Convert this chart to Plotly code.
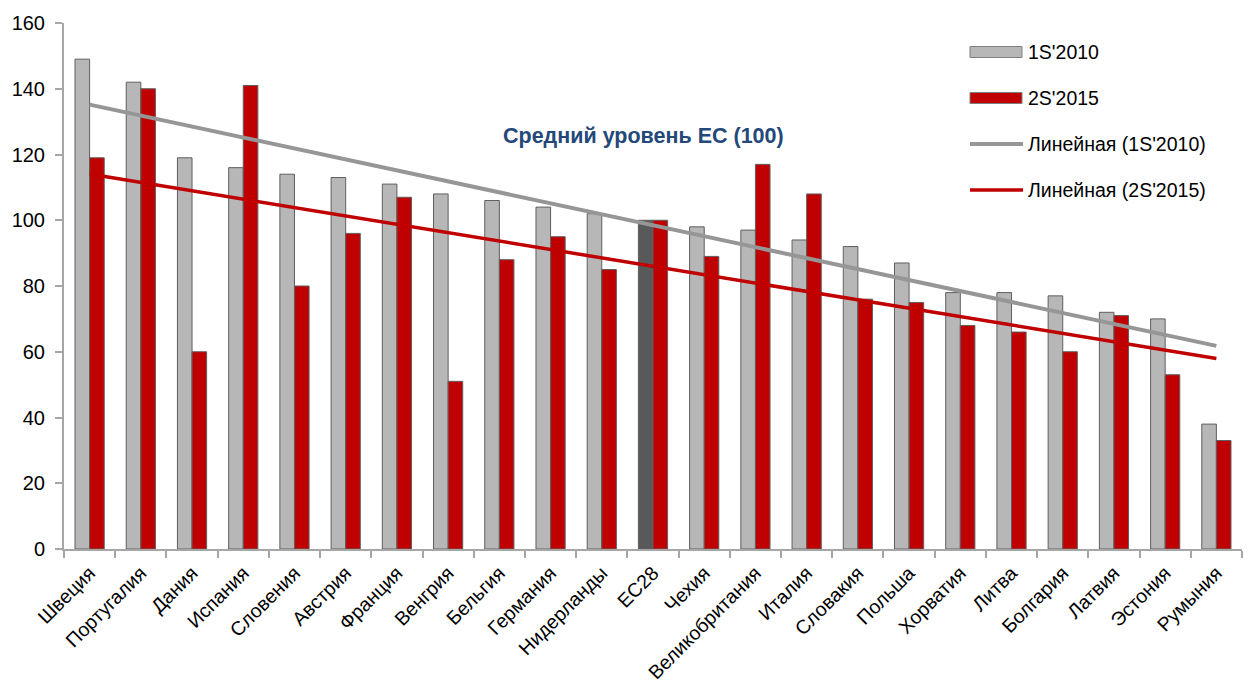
import numpy as np
import plotly.graph_objects as go

# Countries, ordered as on the axis
countries = ["Швеция", "Португалия", "Дания", "Испания", "Словения", "Австрия",
             "Франция", "Венгрия", "Бельгия", "Германия", "Нидерланды", "ЕС28",
             "Чехия", "Великобритания", "Италия", "Словакия", "Польша", "Хорватия",
             "Литва", "Болгария", "Латвия", "Эстония", "Румыния"]

# Index values (EU average = 100)
s2010 = [149, 142, 119, 116, 114, 113, 111, 108, 106, 104, 102, 100,
         98, 97, 94, 92, 87, 78, 78, 77, 72, 70, 38]
s2015 = [119, 140, 60, 141, 80, 96, 107, 51, 88, 95, 85, 100,
         89, 117, 108, 76, 75, 68, 66, 60, 71, 53, 33]

name_2010 = "1S'2010"
name_2015 = "2S'2015"
trend_2010 = "Линейная (1S'2010)"
trend_2015 = "Линейная (2S'2015)"
eu_label = "Средний уровень ЕС (100)"
y_ticks = [0, 20, 40, 60, 80, 100, 120, 140, 160]

FONT = "Liberation Sans, Arial, sans-serif"
GRAY = "#b7b7b7"
DARK = "#595959"
RED = "#c00000"
TREND_GRAY = "#969696"
EDGE = "#5f5f5f"

# Plot-area geometry in pixels (used to place the hand-drawn legend)
W, H = 1248, 684
L, R, T, B = 64, 6, 23, 135
PW, PH = W - L - R, H - T - B


def px(x):
    return (x - L) / PW


def py(y):
    return (H - B - y) / PH


gray_colors = [DARK if c == "ЕС28" else GRAY for c in countries]

# Least-squares linear trends over the category index
idx = np.arange(len(countries))
fit10 = np.polyval(np.polyfit(idx, s2010, 1), idx)
fit15 = np.polyval(np.polyfit(idx, s2015, 1), idx)

fig = go.Figure()
fig.add_trace(go.Bar(x=countries, y=s2010, name=name_2010,
                     marker=dict(color=gray_colors, line=dict(color=EDGE, width=1))))
fig.add_trace(go.Bar(x=countries, y=s2015, name=name_2015,
                     marker=dict(color=RED, line=dict(color=EDGE, width=1))))
fig.add_trace(go.Scatter(x=countries, y=fit10, mode="lines", name=trend_2010,
                         line=dict(color=TREND_GRAY, width=4)))
fig.add_trace(go.Scatter(x=countries, y=fit15, mode="lines", name=trend_2015,
                         line=dict(color=RED, width=3.5)))

# Legend drawn by hand: wide swatches and lines, text to the right
shapes = []
annotations = []
legend_rows = [
    ("rect", GRAY, name_2010, 52),
    ("rect", RED, name_2015, 98),
    ("line", TREND_GRAY, trend_2010, 144),
    ("line", RED, trend_2015, 190),
]
for kind, color, label, yc in legend_rows:
    if kind == "rect":
        shapes.append(dict(type="rect", xref="paper", yref="paper",
                           x0=px(970), x1=px(1022), y0=py(yc - 5.5), y1=py(yc + 5.5),
                           fillcolor=color, line=dict(color="#7f7f7f", width=1)))
    else:
        shapes.append(dict(type="line", xref="paper", yref="paper",
                           x0=px(970), x1=px(1023), y0=py(yc), y1=py(yc),
                           line=dict(color=color, width=3.5 if color == RED else 4)))
    annotations.append(dict(text=label, xref="paper", yref="paper",
                            x=px(1026), y=py(yc), xanchor="left", yanchor="middle",
                            showarrow=False, font=dict(family=FONT, size=19.5, color="#000")))

annotations.append(dict(text="<b>" + eu_label + "</b>", xref="paper", yref="paper",
                        x=px(643), y=py(136), xanchor="center", yanchor="middle",
                        showarrow=False, font=dict(family=FONT, size=21.5, color="#24487a")))

fig.update_layout(
    width=W, height=H,
    margin=dict(l=L, r=R, t=T, b=B, autoexpand=False),
    paper_bgcolor="white", plot_bgcolor="white",
    barmode="group", bargap=0.43, bargroupgap=0,
    showlegend=False,
    font=dict(family=FONT, size=19.5, color="#000"),
    shapes=shapes, annotations=annotations,
)
fig.update_xaxes(
    type="category", tickangle=-45, tickson="boundaries",
    ticks="outside", ticklen=7, tickcolor="#a6a6a6", tickwidth=2,
    showline=True, linecolor="#a6a6a6", linewidth=2,
    showgrid=False, automargin=False,
    ticklabelstandoff=3,
    tickfont=dict(family=FONT, size=19.5, color="#000"),
)
fig.update_yaxes(
    range=[0, 160], tickvals=y_ticks, ticks="outside", ticklen=7,
    tickcolor="#a6a6a6", tickwidth=2,
    showline=True, linecolor="#a6a6a6", linewidth=2,
    showgrid=False, zeroline=False, automargin=False,
    ticklabelstandoff=6,
    tickfont=dict(family=FONT, size=20, color="#000"),
)

fig.write_html("out.html")
